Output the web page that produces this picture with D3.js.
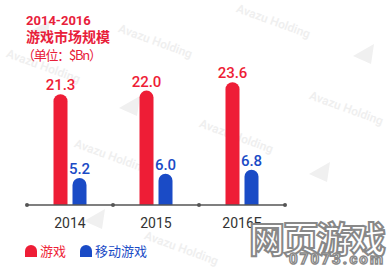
<!DOCTYPE html>
<html>
<head>
<meta charset="utf-8">
<script src="https://cdn.jsdelivr.net/npm/d3@7"></script>
<style>
  body { margin: 0; background: #fff; }
  svg { display: block; font-family: Roboto, "Noto Sans CJK SC", sans-serif; }
</style>
</head>
<body>
<svg width="392" height="271"></svg>
<script>
const years = ["2014", "2015", "2016E"];
const games = [21.3, 22.0, 23.6];
const mobileGames = [5.2, 6.0, 6.8];
const seriesNames = ["游戏", "移动游戏"];
const colors = ["#ee1d36", "#1a4bc6"];

const svg = d3.select("svg");

// faint watermarks
const marks = [[154, 45], [272, 25], [345, 112], [235, 140], [110, 160], [42, 70], [180, 252]];
svg.append("g").selectAll("text")
  .data(marks)
  .enter().append("text")
  .attr("transform", d => `translate(${d[0]},${d[1]}) rotate(20)`)
  .attr("text-anchor", "middle")
  .attr("font-size", 12)
  .attr("font-weight", 600)
  .attr("fill", "#efefef")
  .text("Avazu Holding");

const tris = [[364, 54], [320, 172], [130, 106], [95, 219], [40, 30]];
svg.append("g").selectAll("path")
  .data(tris)
  .enter().append("path")
  .attr("transform", d => `translate(${d[0]},${d[1]})`)
  .attr("d", "M-11,2 L10,-10 L7,10 Z")
  .attr("fill", "#f0f0f0");

// titles
svg.append("text").attr("x", 26).attr("y", 25)
  .attr("font-size", 13).attr("font-weight", 700).attr("fill", "#e8203a")
  .text("2014-2016");
svg.append("text").attr("x", 26).attr("y", 42)
  .attr("font-size", 14).attr("font-weight", 700).attr("fill", "#e8203a")
  .attr("font-family", "'Noto Sans CJK SC', sans-serif")
  .text("游戏市场规模");
svg.append("text").attr("x", 22).attr("y", 60)
  .attr("font-size", 13).attr("fill", "#e8203a")
  .attr("font-family", "'Noto Sans CJK SC', sans-serif")
  .attr("textLength", 80)
  .text("（单位：$Bn）");

const x = d3.scaleBand().domain(years).range([27, 285]).padding(0);
const y = d3.scaleLinear().domain([0, 25]).range([205, 75]);

const barW = 14, offset = 9.5;

function barPath(cx, top, bottom, w) {
  const r = w / 2;
  return `M${cx - r},${bottom} L${cx - r},${top + r} A${r},${r} 0 0 1 ${cx + r},${top + r} L${cx + r},${bottom} Z`;
}

[games, mobileGames].forEach((vals, s) => {
  const g = svg.append("g");
  const dx = s === 0 ? -offset : offset;
  g.selectAll("path")
    .data(vals)
    .enter().append("path")
    .attr("d", (d, i) => barPath(x(years[i]) + x.bandwidth() / 2 + dx, y(d), y(0), barW))
    .attr("fill", colors[s]);
  g.selectAll("text")
    .data(vals)
    .enter().append("text")
    .attr("x", (d, i) => x(years[i]) + x.bandwidth() / 2 + dx)
    .attr("y", d => y(d) - 4)
    .attr("text-anchor", "middle")
    .attr("font-size", 15)
    .attr("font-weight", 500)
    .attr("fill", colors[s])
    .text(d => d.toFixed(1));
});

// axis
svg.append("line")
  .attr("x1", 27).attr("x2", 285).attr("y1", 205).attr("y2", 205)
  .attr("stroke", "#555").attr("stroke-width", 1.5);
const ticks = years.map(d => x(d)).concat([285]);
svg.append("g").selectAll("circle")
  .data(ticks)
  .enter().append("circle")
  .attr("cx", d => d).attr("cy", 205).attr("r", 2)
  .attr("fill", "#555");
svg.append("g").selectAll("text")
  .data(years)
  .enter().append("text")
  .attr("x", d => x(d) + x.bandwidth() / 2)
  .attr("y", 228)
  .attr("text-anchor", "middle")
  .attr("font-size", 14)
  .attr("fill", "#333")
  .text(d => d);

// legend
const legX = [25, 80];
seriesNames.forEach((name, i) => {
  svg.append("path")
    .attr("d", barPath(legX[i] + 6, 245, 257, 12))
    .attr("fill", colors[i]);
  svg.append("text")
    .attr("x", legX[i] + 15).attr("y", 256)
    .attr("font-size", 13)
    .attr("font-family", "'Noto Sans CJK SC', sans-serif")
    .attr("fill", colors[i])
    .text(name);
});

// site logo overlay
svg.append("text")
  .attr("x", 249).attr("y", 253)
  .attr("font-size", 36).attr("font-weight", 700)
  .attr("font-family", "'Noto Sans CJK SC', sans-serif")
  .attr("textLength", 137)
  .attr("fill", "#fff").attr("stroke", "#888").attr("stroke-width", 2)
  .text("网页游戏");
svg.append("text")
  .attr("x", 289).attr("y", 264)
  .attr("font-size", 15).attr("font-weight", 700)
  .attr("textLength", 94)
  .attr("fill", "#fff").attr("stroke", "#888").attr("stroke-width", 1.4)
  .text("07073.com");
</script>
</body>
</html>
